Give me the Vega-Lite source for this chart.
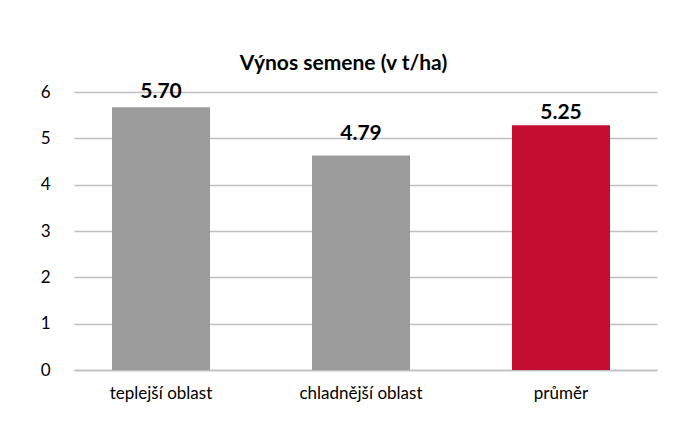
{
  "$schema": "https://vega.github.io/schema/vega-lite/v6.json",
  "width": 583,
  "height": 278,
  "autosize": "none",
  "padding": {"left": 74, "top": 92, "right": 19, "bottom": 58},
  "background": "white",
  "title": {
    "text": "Výnos semene (v t/ha)",
    "font": "Lato",
    "fontSize": 21,
    "fontWeight": "bold",
    "color": "#000000",
    "anchor": "middle",
    "dx": -22,
    "offset": 7
  },
  "config": {
    "view": {"stroke": null},
    "font": "Lato"
  },
  "data": {
    "values": [
      {"oblast": "teplejší oblast", "vynos": 5.67, "popisek": 5.70, "skupina": "oblast"},
      {"oblast": "chladnější oblast", "vynos": 4.63, "popisek": 4.79, "skupina": "oblast"},
      {"oblast": "průměr", "vynos": 5.28, "popisek": 5.25, "skupina": "průměr"}
    ]
  },
  "encoding": {
    "x": {
      "field": "oblast",
      "type": "nominal",
      "sort": null,
      "scale": {"paddingInner": 0.51, "paddingOuter": 0.2125, "align": 0.447},
      "axis": {
        "title": null,
        "labelAngle": 0,
        "labelFont": "Lato",
        "labelFontSize": 17,
        "labelColor": "#000000",
        "labelPadding": 15,
        "ticks": false,
        "domain": true,
        "domainColor": "#bfbfbf",
        "domainWidth": 1.5
      }
    }
  },
  "layer": [
    {
      "mark": {"type": "bar"},
      "encoding": {
        "y": {
          "field": "vynos",
          "type": "quantitative",
          "scale": {"domain": [0, 6], "nice": false},
          "axis": {
            "title": null,
            "values": [0, 1, 2, 3, 4, 5, 6],
            "labelFont": "Lato",
            "labelFontSize": 17,
            "labelColor": "#000000",
            "labelPadding": 24,
            "ticks": false,
            "domain": false,
            "grid": true,
            "gridColor": "#c0c0c0",
            "gridWidth": 1.3
          }
        },
        "color": {
          "field": "skupina",
          "type": "nominal",
          "scale": {"domain": ["oblast", "průměr"], "range": ["#9b9b9b", "#c30d31"]},
          "legend": null
        }
      }
    },
    {
      "mark": {
        "type": "text",
        "font": "Lato",
        "fontSize": 21,
        "fontWeight": "bold",
        "color": "#000000",
        "baseline": "bottom",
        "dy": -4
      },
      "encoding": {
        "y": {"field": "popisek", "type": "quantitative"},
        "text": {"field": "popisek", "type": "quantitative", "format": ".2f"}
      }
    }
  ]
}
